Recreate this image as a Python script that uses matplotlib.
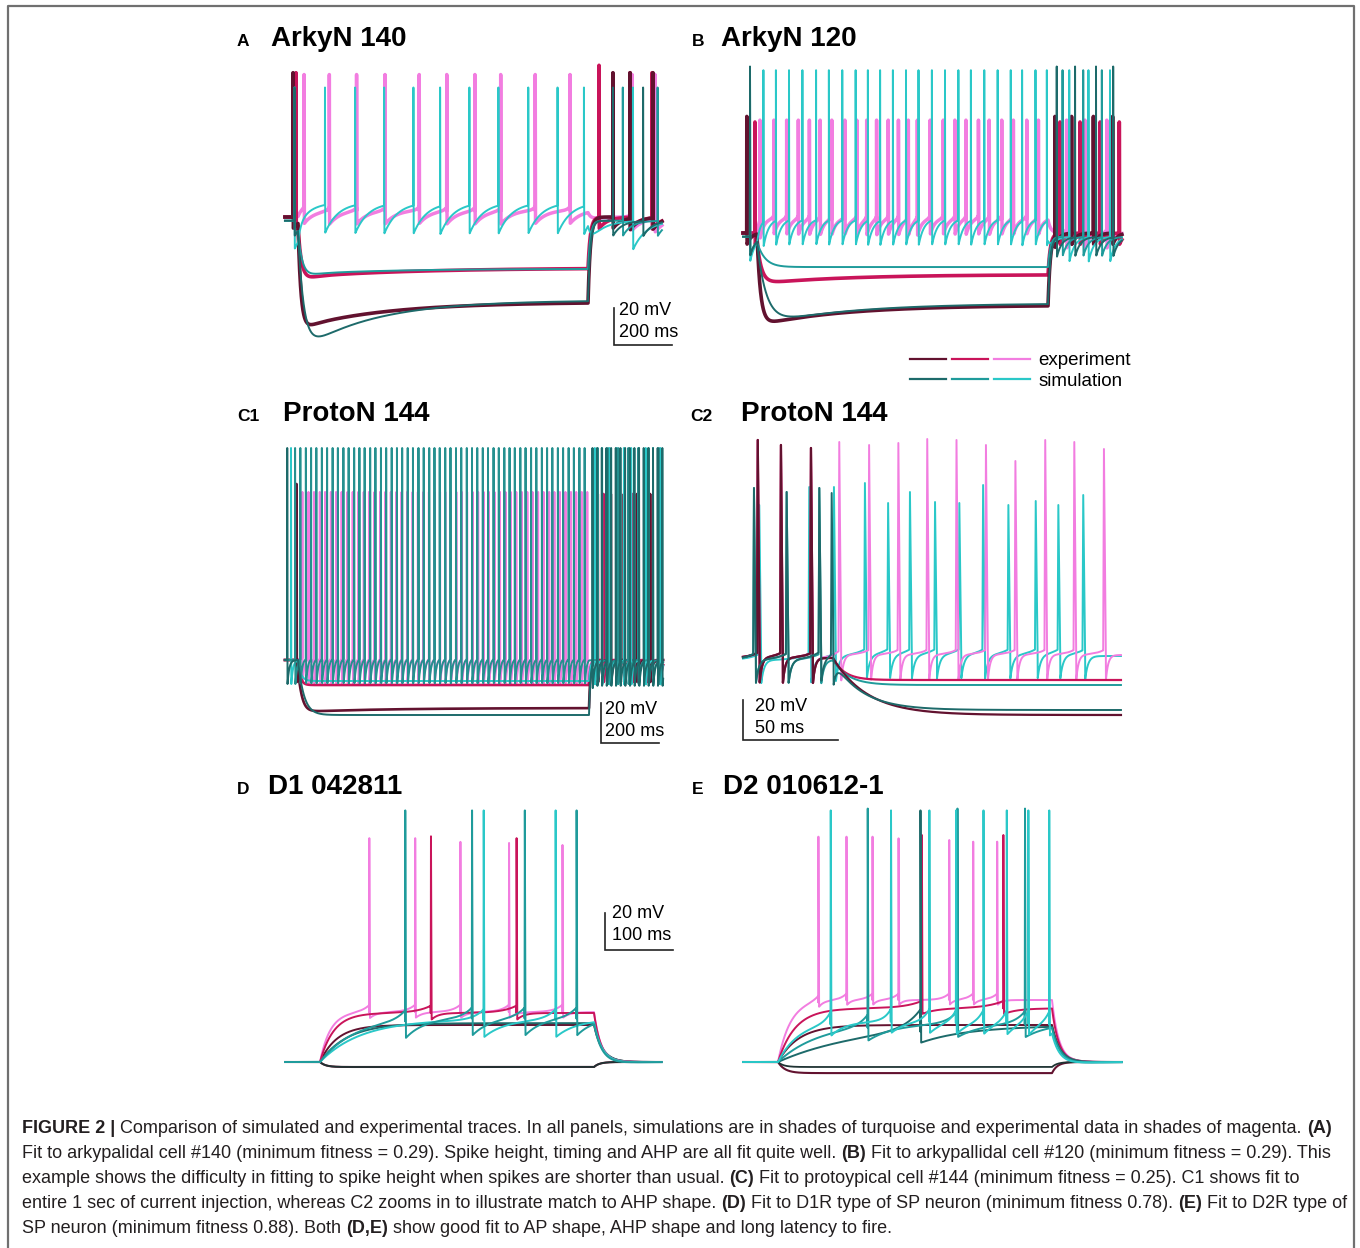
import numpy as np
import matplotlib
matplotlib.use('Agg')
import matplotlib.pyplot as plt
from matplotlib.lines import Line2D
from matplotlib.legend_handler import HandlerTuple

plt.rcParams['font.family'] = ['Liberation Sans', 'DejaVu Sans']

W, H = 1360, 1248

# experiment = shades of magenta, simulation = shades of turquoise (dark, mid, light)
EXP = ['#62122f', '#c9145a', '#f27de0']
SIM = ['#1d6a6a', '#1f9b9b', '#2ac8c8']
HYP = '#1f3333'

# ---------------- data (time in ms from step onset, voltage in mV) ----------------
# A  ArkyN 140
A_exp_light_spk = [21, 108, 202, 300, 418, 513, 610, 699, 818, 938, 1152, 1231]
A_exp_mid_spk = [-7, 1038, 1145, 1221]
A_exp_mid_pk = [18, 22, 18, 18]
A_exp_dark_spk = [-17, 1086, 1145, 1224]
A_sim_light_spk = [-12, 93, 197, 297, 398, 490, 591, 691, 794, 895, 986, 1155]
A_sim_mid_spk = [-12, 1120, 1240]
A_sim_dark_spk = [-12, 1086, 1190]
# rest, step level, AHP depth
A_exp_light_v = [-60, -56, 7]
A_exp_mid_v = [-60, -87.5, 6]
A_exp_dark_v = [-60, -106, 6]
A_sim_light_v = [-62, -52, 15]
A_sim_mid_v = [-62, -88, 8]
A_sim_dark_v = [-62, -105, 8]

# B  ArkyN 120
B_exp_light_spk = [10, 58, 102, 142, 180, 217, 257, 302, 343, 377, 411, 451, 486, 520, 551,
                   595, 640, 680, 718, 761, 798, 841, 881, 927, 967, 1064, 1127, 1202]
B_exp_mid_spk = [-7, 1041, 1110, 1179, 1245]
B_exp_dark_spk = [-35, 1024, 1081, 1156, 1222]
B_sim_light_spk = [-24, 22, 65, 110, 156, 203, 247, 293, 339, 381, 423, 467, 512, 555, 601,
                   646, 692, 735, 781, 827, 872, 911, 957, 996, 1073, 1139, 1213]
B_sim_mid_spk = [-24, 1050, 1121, 1185]
B_sim_dark_spk = [-24, 1030, 1093, 1165, 1224]
B_exp_light_v = [-60, -52, 8]
B_exp_mid_v = [-60, -82.5, 6]
B_exp_dark_v = [-60, -99, 6]
B_sim_light_v = [-62, -52, 13]
B_sim_mid_v = [-62, -78.4, 10]
B_sim_dark_v = [-62, -98, 10]

# C1  ProtoN 144 (whole 1 s step)
C1_exp_light_spk = [15, 36, 55, 75, 93, 113, 131, 150, 170, 188, 207, 226, 244, 263, 282, 300,
                    319, 338, 356, 375, 394, 412, 431, 450, 469, 488, 506, 525, 544, 563, 581,
                    600, 619, 638, 656, 675, 694, 713, 731, 750, 769, 788, 806, 825, 844, 863,
                    881, 900, 919, 938, 956, 975, 994]
C1_exp_mid_spk = [1050, 1100, 1150, 1200, 1245]
C1_exp_dark_spk = [-5, 1030, 1075, 1120, 1165, 1210]
C1_sim_light_spk = [-10, 8, 27, 45, 63, 82, 100, 119, 137, 156, 174, 193, 211, 229, 248, 266,
                    285, 303, 322, 340, 358, 377, 395, 414, 432, 451, 469, 487, 506, 524, 543,
                    561, 580, 598, 616, 635, 653, 672, 690, 709, 727, 745, 764, 782, 801, 819,
                    838, 856, 874, 893, 911, 930, 948, 967, 985,
                    1030, 1065, 1100, 1135, 1170, 1205, 1240]
C1_sim_mid_spk = [-24, 1020, 1045, 1070, 1095, 1120, 1145, 1170, 1195, 1220, 1245]
C1_sim_dark_spk = [-37, 1012, 1028, 1044, 1060, 1076, 1092, 1108, 1124, 1140, 1156, 1172,
                   1188, 1204, 1220, 1236, 1252]
C1_exp_light_v = [-56, -55, 12]
C1_exp_mid_v = [-56, -68.5, 11]
C1_exp_dark_v = [-56, -80, 11]
C1_sim_light_v = [-56, -55, 12]
C1_sim_mid_v = [-56, -66.5, 12]
C1_sim_dark_v = [-56, -83.5, 12]

# C2  ProtoN 144 (zoom on step onset)
C2_pre_exp_spk = [-39.6, -27.4, -11.6]
C2_pre_exp_pk = [51, 48.5, 47]
C2_exp_light_spk = [3.3, 19, 34.4, 49.6, 65, 80.5, 96, 111.7, 127, 142.6]
C2_exp_light_pk = [50, 48.5, 49.5, 51.5, 51, 48.5, 40.5, 51, 50, 46.5]
C2_sim_light_spk = [-38.8, -12.5, 0.5, 16.8, 29, 40.5, 53.7, 66.5, 79, 92.3, 106.7, 118.6, 131.7]
C2_sim_light_pk = [18.5, 27.5, 27.5, 29.5, 19.5, 25, 20, 19.5, 28.5, 18.5, 20.5, 18.5, 23.5]
C2_sim_dark_spk = [-41.6, -24.4, -7.2, -0.7]
C2_sim_dark_pk = [27, 25, 27, 24.5]
C2_exp_light_v = [-58, -56.5, 13]
C2_exp_mid_v = [-58, -69, 13]
C2_exp_dark_v = [-58, -86.5, 13]
C2_sim_light_v = [-59, -57, 12]
C2_sim_mid_v = [-59, -71.5, 12]
C2_sim_dark_v = [-59, -84, 12]

# D  D1 042811
D_exp_light_spk = [72, 139, 205, 276, 354]
D_exp_light_pk = [41, 41, 39, 38.4, 37.3]
D_exp_mid_spk = [162, 287]
D_exp_mid_pk = [42, 41]
D_sim_dark_spk = [124.5, 222, 299, 374.6]
D_sim_light_spk = [239, 344]
D_exp_light_v = [-80, -53, 3]
D_exp_mid_v = [-80, -53.5, 3.5]
D_exp_dark_v = [-80, -60, 0]
D_sim_dark_v = [-80, -56, 9]
D_sim_light_v = [-80, -57, 9]
D_sim_mid_v = [-80, -59, 0]
D_hyp_v = [-80, -82.7, 0]

# E  D2 010612-1
E_exp_light_spk = [59, 100, 138, 176, 250, 285, 320]
E_exp_light_pk = [41.8, 41.8, 41.8, 40.9, 40, 39.1, 39.1]
E_exp_mid_spk = [210, 329]
E_sim_light_spk = [77, 165, 221, 260, 300, 334, 365.5, 396]
E_sim_mid_spk = [131, 262, 360.6]
E_sim_dark_spk = [208]
E_exp_light_v = [-80, -46.5, 2.5]
E_exp_mid_v = [-80, -51, 3]
E_exp_dark_v = [-80, -60, 0]
E_sim_light_v = [-80, -58, 6]
E_sim_mid_v = [-80, -59, 7]
E_sim_dark_v = [-80, -60, 6]
E_exp_hyp_v = [-80, -86, 0]
E_sim_hyp_v = [-80, -82.7, 0]


# ---------------- helpers ----------------
RISE, FALL = 0.4, 1.0


def trace(t, spk, pk, v, on, off, tau_on, tau_off=10, ahp_tau=20,
          ramp=0.0, ramp_tau=5.0, dip=0.0, dip_tau=300.0):
    """membrane potential: step response + spikes at the given times"""
    rest, level, ahp = v
    b = np.full(t.shape, float(rest))
    st = (t >= on) & (t < off)
    u = t[st] - on
    b[st] = (rest + (level - rest) * (1 - np.exp(-u / tau_on))
             - dip * (np.exp(-u / dip_tau) - np.exp(-u / tau_on)))
    af = t >= off
    if af.any() and st.any():
        b[af] = rest + (b[st][-1] - rest) * np.exp(-(t[af] - off) / tau_off)
    out = b.copy()
    spk = np.asarray(spk, float)
    pk = np.broadcast_to(np.asarray(pk, float), spk.shape)
    for ts in spk:
        m = t >= ts + FALL
        out[m] -= ahp * np.exp(-(t[m] - ts - FALL) / ahp_tau)
        if ramp:
            m = t < ts - RISE
            out[m] += ramp * np.exp(-(ts - t[m]) / ramp_tau)
    dt = t[1] - t[0]
    r = max(1, int(round(RISE / dt)))
    f = max(2, int(round(FALL / dt)))
    for ts, p in zip(spk, pk):
        k = int(round((ts - t[0]) / dt))
        if k - r < 0 or k + f >= len(t):
            continue
        out[k - r:k + 1] = np.linspace(out[k - r], p, r + 1)
        out[k:k + f + 1] = np.linspace(p, out[k + f], f + 1)
    return out


fig = plt.figure(figsize=(W / 100, H / 100), dpi=100)
bg = fig.add_axes([0, 0, 1, 1])
bg.set_xlim(0, W)
bg.set_ylim(H, 0)
bg.axis('off')


def panel(x0, y0, x1, y1, x_on, pxms, y_ref, v_ref, pxmv):
    ax = fig.add_axes([x0 / W, 1 - y1 / H, (x1 - x0) / W, (y1 - y0) / H])
    ax.set_xlim((x0 - x_on) / pxms, (x1 - x_on) / pxms)
    ax.set_ylim(v_ref - (y1 - y_ref) / pxmv, v_ref + (y_ref - y0) / pxmv)
    ax.axis('off')
    return ax


def scalebar(ax, x0, y0, ms, mv, dx, dy_top, dy_bot, ms_label):
    ax.plot([x0, x0, x0 + ms], [y0 + mv, y0, y0], color='#222222', lw=1.2,
            solid_joinstyle='miter')
    ax.text(x0 + dx, y0 + dy_top, '%d mV' % mv, fontsize=13, va='center', ha='left')
    ax.text(x0 + dx, y0 + dy_bot, ms_label, fontsize=13, va='center', ha='left')


def title(xl, xt, yb, letter, name):
    bg.text(xl, yb, letter, fontsize=12.5, fontweight='bold', va='baseline')
    bg.text(xt, yb, name, fontsize=20, fontweight='bold', va='baseline')


# ---------------- A ----------------
ax = panel(280, 55, 690, 360, 298, 0.29, 217, -60, 1.85)
t = np.arange(-45, 1255, 0.1)
ax.plot(t, trace(t, A_exp_light_spk, 17, A_exp_light_v, 0, 1000, 10, 10, 40, ramp=2, ramp_tau=10),
        color=EXP[2], lw=2.5)
ax.plot(t, trace(t, A_exp_mid_spk, A_exp_mid_pk, A_exp_mid_v, 0, 1000, 12, 8, 30, dip=5, dip_tau=400),
        color=EXP[1], lw=2.6)
ax.plot(t, trace(t, A_exp_dark_spk, 18, A_exp_dark_v, 0, 1000, 10, 8, 30, dip=14, dip_tau=300),
        color=EXP[0], lw=2.6)
ax.plot(t, trace(t, A_sim_light_spk, 10, A_sim_light_v, 0, 1000, 10, 10, 45),
        color=SIM[2], lw=1.4)
ax.plot(t, trace(t, A_sim_mid_spk, 10, A_sim_mid_v, 0, 1000, 15, 8, 30, dip=3),
        color=SIM[1], lw=1.4)
ax.plot(t, trace(t, A_sim_dark_spk, 10, A_sim_dark_v, 0, 1000, 20, 8, 30, dip=28, dip_tau=250),
        color=SIM[0], lw=1.4)
scalebar(ax, 1090, -129.2, 200, 20, 17, 18.9, 7.0, '200 ms')
title(237, 271, 46, 'A', 'ArkyN 140')

# ---------------- B ----------------
ax = panel(735, 55, 1140, 340, 757, 0.291, 233, -60, 1.85)
t = np.arange(-48, 1254, 0.1)
ax.plot(t, trace(t, B_exp_light_spk, 1, B_exp_light_v, 0, 1000, 10, 10, 15, ramp=2, ramp_tau=6),
        color=EXP[2], lw=2.5)
ax.plot(t, trace(t, B_exp_mid_spk, 0, B_exp_mid_v, 0, 1000, 15, 8, 15, dip=5),
        color=EXP[1], lw=2.6)
ax.plot(t, trace(t, B_exp_dark_spk, 3, B_exp_dark_v, 0, 1000, 12, 8, 15, dip=11),
        color=EXP[0], lw=2.6)
ax.plot(t, trace(t, B_sim_light_spk, 28, B_sim_light_v, 0, 1000, 10, 10, 18),
        color=SIM[2], lw=1.4)
ax.plot(t, trace(t, B_sim_mid_spk, 28, B_sim_mid_v, 0, 1000, 25, 8, 18),
        color=SIM[1], lw=1.4)
ax.plot(t, trace(t, B_sim_dark_spk, 30, B_sim_dark_v, 0, 1000, 30, 8, 18, dip=12),
        color=SIM[0], lw=1.4)
title(692, 721, 46, 'B', 'ArkyN 120')

# legend (experiment / simulation, three shades each)
hx = [Line2D([], [], color=c, lw=1.6) for c in EXP]
hs = [Line2D([], [], color=c, lw=1.6) for c in SIM]
fig.legend([tuple(hx), tuple(hs)], ['experiment', 'simulation'],
           handler_map={tuple: HandlerTuple(ndivide=None, pad=0.32)},
           loc='upper left', bbox_to_anchor=(910 / W, 1 - 352 / H),
           frameon=False, fontsize=13.5, handlelength=6.4, handletextpad=0.43,
           labelspacing=0.18, borderpad=0, borderaxespad=0)

# ---------------- C1 ----------------
ax = panel(280, 430, 690, 750, 298, 0.291, 658, -55, 2.0)
t = np.arange(-45, 1255, 0.1)
ax.plot(t, trace(t, C1_exp_light_spk, 28, C1_exp_light_v, 0, 1000, 5, 5, 6),
        color=EXP[2], lw=1.5)
ax.plot(t, trace(t, C1_exp_mid_spk, 27, C1_exp_mid_v, 0, 1000, 8, 5, 6),
        color=EXP[1], lw=1.9)
ax.plot(t, trace(t, C1_exp_dark_spk, [32, 27, 27, 27, 27, 27], C1_exp_dark_v, 0, 1000, 12, 5, 6, dip=2),
        color=EXP[0], lw=1.9)
ax.plot(t, trace(t, C1_sim_mid_spk, 50, C1_sim_mid_v, 0, 1000, 10, 5, 6),
        color=SIM[2], lw=1.4)
ax.plot(t, trace(t, C1_sim_light_spk, 50, C1_sim_light_v, 0, 1000, 5, 5, 6),
        color='#25908f', lw=1.4)
ax.plot(t, trace(t, C1_sim_dark_spk, 50, C1_sim_dark_v, 0, 1000, 20, 5, 6),
        color=SIM[0], lw=1.4)
scalebar(ax, 1041, -97.5, 200, 20, 14, 16.5, 5.7, '200 ms')
title(237, 283, 421, 'C1', 'ProtoN 144')

# ---------------- C2 ----------------
ax = panel(735, 430, 1140, 750, 833, 1.9, 662, -60, 2.0)
t = np.arange(-47.4, 151.6, 0.05)
ax.plot(t, trace(t, C2_sim_light_spk, C2_sim_light_pk, C2_sim_light_v, 0, 1000, 3, 5, 1.5,
                 ramp=3, ramp_tau=6), color=SIM[2], lw=1.4)
ax.plot(t, trace(t, C2_pre_exp_spk + C2_exp_light_spk, C2_pre_exp_pk + C2_exp_light_pk,
                 C2_exp_light_v, 0, 1000, 3, 5, 1.2, ramp=2.5, ramp_tau=5), color=EXP[2], lw=1.4)
ax.plot(t, trace(t, C2_pre_exp_spk, C2_pre_exp_pk, C2_exp_mid_v, 0, 1000, 6, 5, 1.2,
                 ramp=2.5, ramp_tau=5), color=EXP[1], lw=1.6)
ax.plot(t, trace(t, C2_sim_dark_spk[:3], C2_sim_dark_pk[:3], C2_sim_mid_v, 0, 1000, 8, 5, 1.5,
                 ramp=3, ramp_tau=6), color=SIM[1], lw=1.4)
ax.plot(t, trace(t, C2_pre_exp_spk, C2_pre_exp_pk, C2_exp_dark_v, 0, 1000, 18, 5, 1.2,
                 ramp=2.5, ramp_tau=5), color=EXP[0], lw=1.6)
ax.plot(t, trace(t, C2_sim_dark_spk, C2_sim_dark_pk, C2_sim_dark_v, 0, 1000, 15, 5, 1.5,
                 ramp=3, ramp_tau=6), color=SIM[0], lw=1.4)
scalebar(ax, -47.2, -99, 50, 20, 6.2, 16.7, 5.8, '50 ms')
title(690, 741, 421, 'C2', 'ProtoN 144')

# ---------------- D ----------------
ax = panel(280, 800, 690, 1080, 320, 0.685, 1062, -80, 1.85)
t = np.arange(-51, 499, 0.1)
ax.plot(t, trace(t, [], 0, D_hyp_v, 0, 400, 8, 8), color=EXP[0], lw=1.5)
ax.plot(t, trace(t, [], 0, D_hyp_v, 0, 400, 8, 8), color=HYP, lw=1.3)
ax.plot(t, trace(t, [], 0, D_exp_dark_v, 0, 400, 25, 12), color=EXP[0], lw=1.4)
ax.plot(t, trace(t, [], 0, D_sim_mid_v, 0, 400, 40, 12), color=SIM[0], lw=1.4)
ax.plot(t, trace(t, D_exp_light_spk, D_exp_light_pk, D_exp_light_v, 0, 400, 15, 10, 10,
                 ramp=4, ramp_tau=12), color=EXP[2], lw=1.4)
ax.plot(t, trace(t, D_exp_mid_spk, D_exp_mid_pk, D_exp_mid_v, 0, 400, 20, 10, 10,
                 ramp=4, ramp_tau=20), color=EXP[1], lw=1.4)
ax.plot(t, trace(t, D_sim_light_spk, 56, D_sim_light_v, 0, 400, 60, 12, 30,
                 ramp=6, ramp_tau=15), color=SIM[2], lw=1.4)
ax.plot(t, trace(t, D_sim_dark_spk, 56, D_sim_dark_v, 0, 400, 50, 12, 25,
                 ramp=6, ramp_tau=15), color=SIM[1], lw=1.4)
scalebar(ax, 416, -19.5, 100, 20, 11, 20, 8.1, '100 ms')
title(237, 268, 794, 'D', 'D1 042811')

# ---------------- E ----------------
ax = panel(735, 800, 1140, 1085, 778, 0.685, 1062, -80, 1.85)
t = np.arange(-51, 502, 0.1)
ax.plot(t, trace(t, [], 0, E_exp_hyp_v, 0, 400, 10, 8), color=EXP[0], lw=1.5)
ax.plot(t, trace(t, [], 0, E_sim_hyp_v, 0, 400, 8, 8), color=HYP, lw=1.3)
ax.plot(t, trace(t, [], 0, E_exp_dark_v, 0, 400, 30, 12), color=EXP[0], lw=1.4)
ax.plot(t, trace(t, E_exp_light_spk, E_exp_light_pk, E_exp_light_v, 0, 400, 18, 10, 6,
                 ramp=3.5, ramp_tau=10), color=EXP[2], lw=1.4)
ax.plot(t, trace(t, E_exp_mid_spk, 42.7, E_exp_mid_v, 0, 400, 25, 10, 20,
                 ramp=4, ramp_tau=25), color=EXP[1], lw=1.4)
ax.plot(t, trace(t, E_sim_dark_spk, 56, E_sim_dark_v, 0, 400, 120, 12, 60,
                 ramp=12, ramp_tau=25), color=SIM[0], lw=1.4)
ax.plot(t, trace(t, E_sim_mid_spk, 57, E_sim_mid_v, 0, 400, 60, 12, 35,
                 ramp=7, ramp_tau=15), color=SIM[1], lw=1.4)
ax.plot(t, trace(t, E_sim_light_spk, 56, E_sim_light_v, 0, 400, 30, 12, 20,
                 ramp=7, ramp_tau=10), color=SIM[2], lw=1.4)
title(692, 723, 794, 'E', 'D2 010612-1')

# ---------------- frame and caption ----------------
bg.plot([8, 8, 1354, 1354], [H + 5, 6, 6, H + 5], color='#707070', lw=1.6)

caption = [
    [('FIGURE 2 |', True), (' Comparison of simulated and experimental traces. In all panels, simulations '
      'are in shades of turquoise and experimental data in shades of magenta. ', False), ('(A)', True)],
    [('Fit to arkypalidal cell #140 (minimum fitness = 0.29). Spike height, timing and AHP are all '
      'fit quite well. ', False), ('(B)', True),
     (' Fit to arkypallidal cell #120 (minimum fitness = 0.29). This', False)],
    [('example shows the difficulty in fitting to spike height when spikes are shorter than usual. ', False),
     ('(C)', True), (' Fit to protoypical cell #144 (minimum fitness = 0.25). C1 shows fit to', False)],
    [('entire 1 sec of current injection, whereas C2 zooms in to illustrate match to AHP shape. ', False),
     ('(D)', True), (' Fit to D1R type of SP neuron (minimum fitness 0.78). ', False), ('(E)', True),
     (' Fit to D2R type of', False)],
    [('SP neuron (minimum fitness 0.88). Both ', False), ('(D,E)', True),
     (' show good fit to AP shape, AHP shape and long latency to fire.', False)],
]
cap_y = [1133, 1158, 1183, 1208, 1233]
fig.canvas.draw()
rend = fig.canvas.get_renderer()
for segs, y in zip(caption, cap_y):
    x = 22
    for s, bold in segs:
        tx = bg.text(x, y, s, fontsize=12.95, fontweight='bold' if bold else 'normal',
                     color='#231f20', va='baseline', ha='left')
        x += tx.get_window_extent(renderer=rend).width

fig.savefig('out.png', dpi=100)
